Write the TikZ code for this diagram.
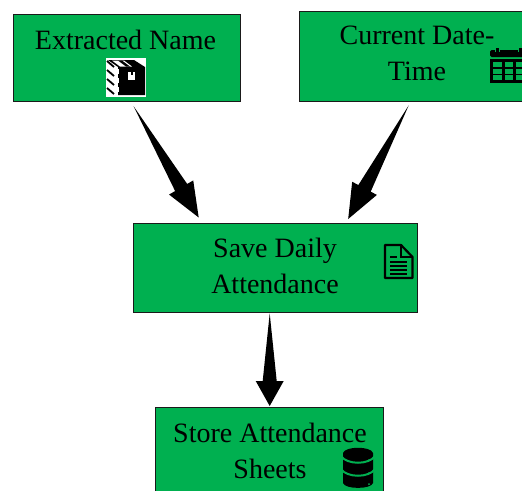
\documentclass[tikz,border=0pt]{standalone}
\usepackage{fontspec}
\setmainfont{Liberation Serif}
\usetikzlibrary{calc}
\definecolor{boxgreen}{HTML}{00B050}
\definecolor{boxline}{HTML}{1A1A1A}
\tikzset{
  x=1pt,y=-1pt,
  flowbox/.style={draw=boxline,line width=1.4pt,fill=boxgreen,inner sep=0pt,anchor=north west},
  label text/.style={font=\fontsize{28}{28}\selectfont,inner sep=0pt,text=black},
  icon line/.style={draw=black,line width=2.2pt,line join=round},
  taper/.style={fill=black,draw=none}
}
% tapered arrow between two named coordinates
\newcommand{\taperarrow}[2]{%
  \coordinate (tb) at ($(#1)!0.73!(#2)$);
  \fill[taper] (#1)
    -- ($(tb)!7pt!90:(#2)$) -- ($(tb)!14pt!90:(#2)$)
    -- (#2)
    -- ($(tb)!14pt!-90:(#2)$) -- ($(tb)!7pt!-90:(#2)$) -- cycle;}
\begin{document}
\begin{tikzpicture}
\useasboundingbox (0,0) rectangle (522,490);
\begin{scope}
\clip (0,0) rectangle (522,490);
\node[flowbox,minimum width=227pt,minimum height=87pt] (name) at (13,14) {};
\node[flowbox,minimum width=236pt,minimum height=90pt] (date) at (299,11) {};
\node[flowbox,minimum width=284pt,minimum height=89pt] (save) at (133,223) {};
\node[flowbox,minimum width=228pt,minimum height=100pt] (store) at (155,407) {};

\node[label text] (t1) at (125.5,40) {Extracted Name};
\node[label text] (t2a) at (417,35) {Current Date-};
\node[label text] (t2b) at (417,71) {Time};
\node[label text] (t3a) at (275,251) {Save Daily};
\node[label text] (t3b) at (275,284) {Attendance};
\node[label text] (t4a) at (270,433) {Store Attendance};
\node[label text] (t4b) at (270,469) {Sheets};

% box icon
\fill[white] (106,58) rectangle (146,97);
\fill[black] (108,60) -- (134,60) -- (145,67) -- (145,95) -- (118,95) -- (118,67) -- cycle;
\fill[white] (112,60.5) -- (124,60.5) -- (132,66.5) -- (120,66.5) -- cycle;
\fill[black] (118,60.5) -- (122,60.5) -- (130,66.5) -- (126,66.5) -- cycle;
\fill[white] (128,72) rectangle (135,80);
\fill[black] (130.5,71) rectangle (132.5,75);
\foreach \yy in {69,78,87}{\fill[white] (115,\yy) rectangle (119,\yy+5);}
\foreach \yy in {60,69,78,87}{\draw[black,line width=1.8pt] (107,\yy+1) -- (114,\yy+7);}

% calendar icon
\fill[black,rounded corners=1.5pt] (490,50) rectangle (530,57);
\foreach \xx in {497,520}{\draw[boxgreen,line width=1pt,fill=black] (\xx-2,52) -- (\xx-2,47.5) -- (\xx+2,47.5) -- (\xx+2,52);}
\fill[black] (490,59) rectangle (530,83);
\foreach \xx in {493,504.5,516}{\foreach \yy in {62,68.5,75}{\fill[boxgreen] (\xx,\yy) rectangle (\xx+8.5,\yy+5);}}

% document icon
\draw[icon line] (385,245) -- (401,245) -- (412.5,257) -- (412.5,278) -- (385,278) -- cycle;
\draw[black,line width=1.8pt] (401,245) -- (401,257) -- (412.5,257);
\draw[black,line width=1.4pt] (390,257) -- (397,257);
\draw[black,line width=2pt] (390,261.5) -- (407,261.5) (390,265.5) -- (407,265.5) (390,269.5) -- (407,269.5) (390,273.5) -- (407,273.5);

% database icon
\fill[black] (343,453) .. controls (345,446) and (371,446) .. (373,453) -- (373,483) .. controls (371,489.5) and (345,489.5) .. (343,483) -- cycle;
\draw[boxgreen,line width=2pt] (341,456) .. controls (347,465) and (369,465) .. (375,456);
\draw[boxgreen,line width=2pt] (341,469) .. controls (347,478) and (369,478) .. (375,469);
\fill[boxgreen] (369,460) circle[radius=1] (369,473) circle[radius=1] (369,484) circle[radius=1];
\end{scope}

\coordinate (s1) at ($(name.south)+(6.5,4)$);
\coordinate (e1) at ($(save.north)+(-77,-5.5)$);
\coordinate (s2) at ($(date.south)+(-9,3)$);
\coordinate (e2) at ($(save.north)+(72.5,-4)$);
\coordinate (s3) at ($(save.south)+(-6,0)$);
\coordinate (e3) at ($(store.north)+(0,-1)$);
\taperarrow{s1}{e1}
\taperarrow{s2}{e2}
\taperarrow{s3}{e3}
\end{tikzpicture}
\end{document}
